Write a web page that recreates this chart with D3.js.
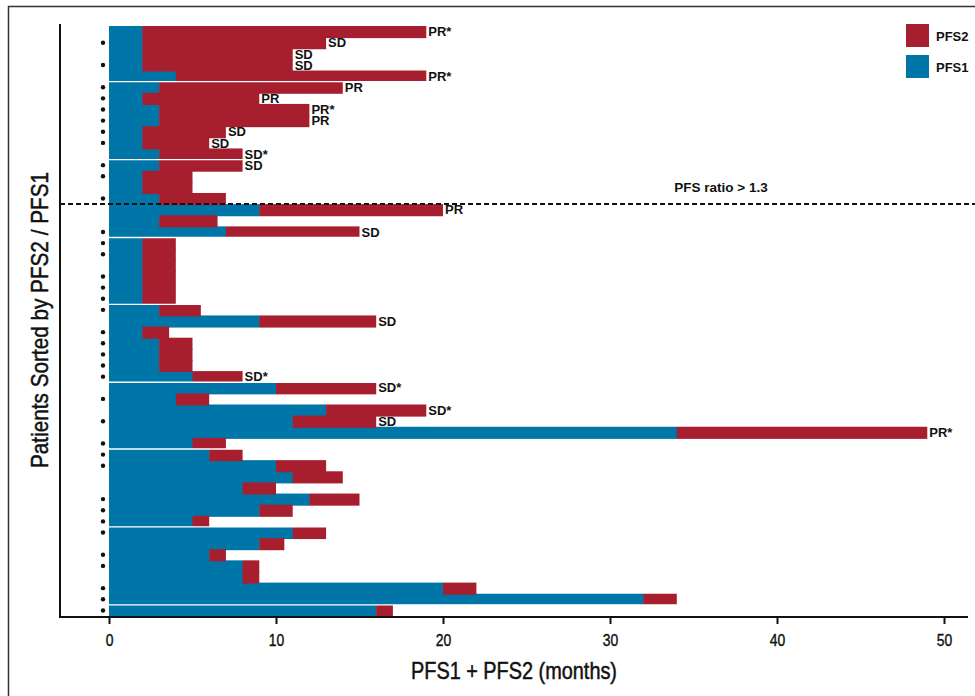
<!DOCTYPE html>
<html>
<head>
<meta charset="utf-8">
<script src="https://cdn.jsdelivr.net/npm/d3@7"></script>
<style>
  html, body { margin: 0; padding: 0; background: #fff; }
  svg { display: block; }
  text { font-family: "Liberation Sans", Arial, sans-serif; }
</style>
</head>
<body>
<svg id="chart" width="975" height="696"></svg>
<script>
// ---- data (rows top to bottom, sorted by PFS2/PFS1) ----
const pfs1 = [2,2,2,2,4, 3,2,3,3,2,2,3,3,2,2,3, 9,3,7, 2,2,2,2,2,2,
              3,9,2,3,3,3,5, 10,4,13,11,34,5, 6,10,11,8,12,9,5,
              11,9,6,8,8,20,32,16];
const pfs2 = [17,11,9,9,15, 11,7,9,9,5,4,5,5,3,3,4, 11,3.5,8, 2,2,2,2,2,2,
              2.5,7,1.6,2,2,2,3, 6,2,6,5,15,2, 2,3,3,2,3,2,1,
              2,1.5,1,1,1,2,2,1];
const responses = ["PR*","SD","SD","SD","PR*", "PR","PR","PR*","PR","SD","SD","SD*","SD","","","",
                   "PR","","SD", "","","","","","",
                   "","SD","","","","","SD*", "SD*","","SD*","SD","PR*","",
                   "","","","","","","",
                   "","","","","","","",""];
const marked = [0,1,0,1,0, 1,1,1,1,1,1,0,1,1,0,1, 0,0,1, 1,1,0,1,1,1,
                1,0,1,1,1,1,1, 0,1,0,1,0,1, 1,1,0,0,1,1,1,
                1,0,1,1,0,1,1,1];
const groupBreaks = [5,12,19,25,32,38,45,52];   // white separators after these rows
const ratioCutRow = 16;                          // rows above have PFS ratio > 1.3
const xTicks = [0,10,20,30,40,50];
const seriesNames = ["PFS2","PFS1"];
const colors = {PFS1: "#0075a8", PFS2: "#a71f2f"};

const rows = pfs1.map((p1, i) => ({i, p1, p2: pfs2[i], resp: responses[i], mark: marked[i]}));

const svg = d3.select("#chart");

// outer frame
svg.append("rect").attr("x", 8.5).attr("y", 6.5).attr("width", 1000).attr("height", 800)
  .attr("fill", "none").attr("stroke", "#333").attr("stroke-width", 1.5);

const x = d3.scaleLinear().domain([0, 50]).range([109, 944]);
const y = d3.scaleBand().domain(d3.range(rows.length)).range([26, 616]).padding(0);

// stacked bars
const stack = d3.stack().keys(["p1","p2"])(rows);
svg.append("g").selectAll("g").data(stack).join("g")
  .attr("fill", (d, k) => k === 0 ? colors.PFS1 : colors.PFS2)
  .selectAll("rect").data(d => d).join("rect")
  .attr("x", d => x(d[0]))
  .attr("y", d => y(d.data.i))
  .attr("width", d => x(d[1]) - x(d[0]) + (d[0] === 0 ? 0.5 : 0))
  .attr("height", d => y.bandwidth() + (groupBreaks.includes(d.data.i + 1) ? 0 : 1));

// white separators
svg.append("g").selectAll("line").data(groupBreaks).join("line")
  .attr("x1", x(0) - 1).attr("x2", 975)
  .attr("y1", d => y(d - 1) + y.bandwidth()).attr("y2", d => y(d - 1) + y.bandwidth())
  .attr("stroke", "#fff").attr("stroke-width", 1.3);

// response labels
const lab = svg.append("g").selectAll("g").data(rows.filter(r => r.resp)).join("g")
  .attr("transform", r => `translate(${x(r.p1 + r.p2) + 1},${y(r.i) + y.bandwidth() / 2})`);
lab.append("text")
  .attr("x", 1).attr("dy", "0.36em")
  .attr("font-size", 13).attr("font-weight", "bold").attr("fill", "#111")
  .text(r => r.resp);

// marker dots
svg.append("g").selectAll("circle").data(rows.filter(r => r.mark)).join("circle")
  .attr("cx", 103).attr("cy", r => y(r.i) + y.bandwidth() / 2).attr("r", 2.2).attr("fill", "#111");

// dashed cutoff line
const yCut = y(ratioCutRow);
svg.append("line").attr("x1", 60).attr("x2", 975).attr("y1", yCut).attr("y2", yCut)
  .attr("stroke", "#111").attr("stroke-width", 2).attr("stroke-dasharray", "5,3");
svg.append("text").attr("x", 721).attr("y", yCut - 12).attr("text-anchor", "middle")
  .attr("font-size", 13.5).attr("font-weight", "bold").attr("fill", "#111")
  .text("PFS ratio > 1.3");

// axes lines
svg.append("line").attr("x1", 60).attr("x2", 60).attr("y1", 24).attr("y2", 617)
  .attr("stroke", "#111").attr("stroke-width", 2);
svg.append("line").attr("x1", 59).attr("x2", 968).attr("y1", 617).attr("y2", 617)
  .attr("stroke", "#111").attr("stroke-width", 2);

const xAxis = d3.axisBottom(x).tickValues(xTicks).tickSize(7).tickSizeOuter(0).tickPadding(10);
const gx = svg.append("g").attr("transform", "translate(0,617)").call(xAxis);
gx.select(".domain").remove();
gx.selectAll(".tick line").attr("stroke", "#111").attr("stroke-width", 2);
gx.selectAll(".tick text")
  .attr("font-family", "'Liberation Sans', Arial, sans-serif")
  .attr("font-size", 17).attr("fill", "#111")
  .attr("stroke", "#111").attr("stroke-width", 0.4)
  .attr("transform", "scale(0.82,1)");

// axis titles
svg.append("text").attr("x", 514).attr("y", 679).attr("text-anchor", "middle")
  .attr("font-size", 24).attr("fill", "#111")
  .attr("stroke", "#111").attr("stroke-width", 0.5)
  .attr("textLength", 206).attr("lengthAdjust", "spacingAndGlyphs")
  .text("PFS1 + PFS2 (months)");
svg.append("text").attr("transform", "translate(48,320) rotate(-90)")
  .attr("text-anchor", "middle")
  .attr("font-size", 24).attr("fill", "#111")
  .attr("stroke", "#111").attr("stroke-width", 0.5)
  .attr("textLength", 296).attr("lengthAdjust", "spacingAndGlyphs")
  .text("Patients Sorted by PFS2 / PFS1");

// legend
const leg = svg.append("g").selectAll("g").data(seriesNames).join("g")
  .attr("transform", (d, k) => `translate(906,${24 + k * 31})`);
leg.append("rect").attr("width", 23).attr("height", 23).attr("fill", d => colors[d]);
leg.append("text").attr("x", 30).attr("y", 12).attr("dy", "0.36em")
  .attr("font-size", 13).attr("font-weight", "bold").attr("fill", "#111").text(d => d);
</script>
</body>
</html>
